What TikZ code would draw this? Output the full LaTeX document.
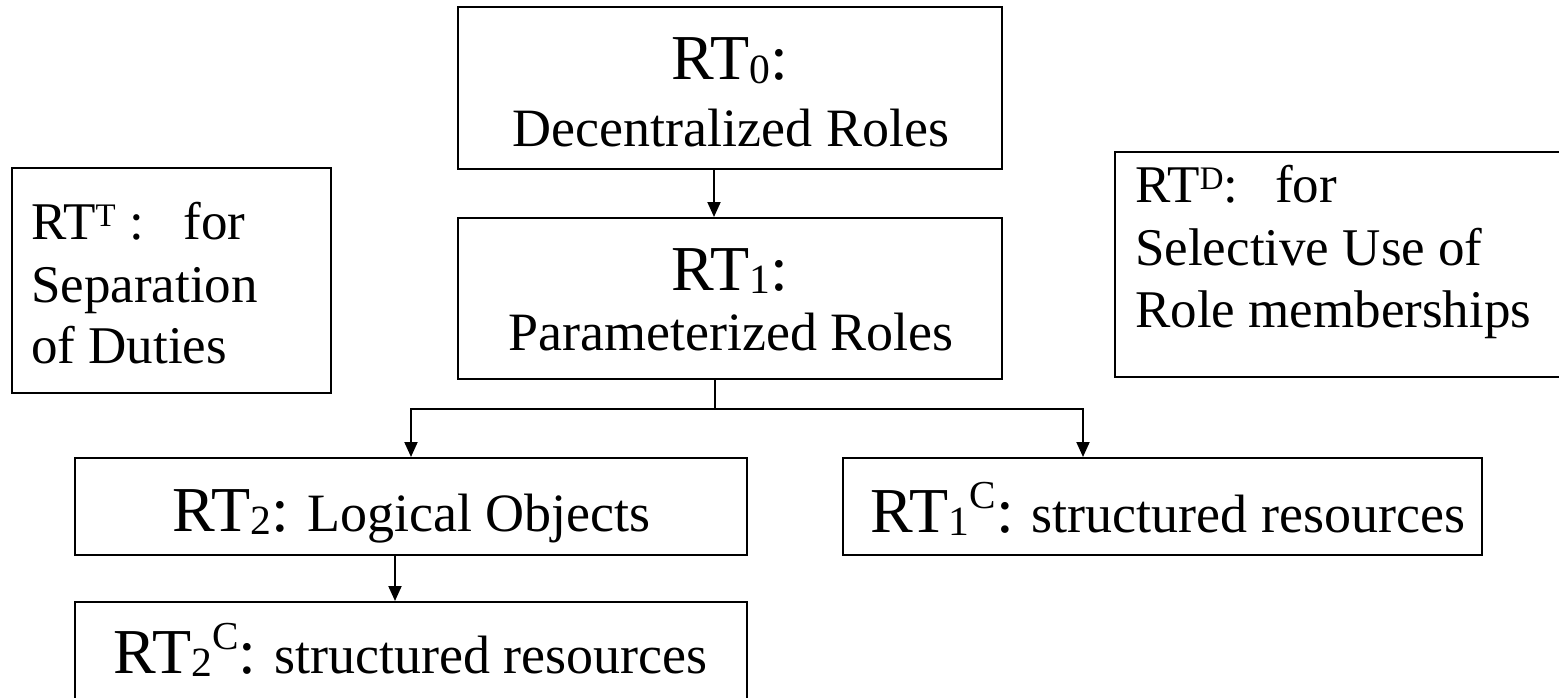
\documentclass[tikz,border=0pt]{standalone}
\usepackage{fontspec}
\setmainfont{Liberation Serif}
\usepackage{graphicx}
\usetikzlibrary{arrows.meta}
\newcommand\sbs[1]{\raisebox{-0.05em}{\scalebox{0.65}{#1}}}
\newcommand\sps[1]{\raisebox{0.36em}{\scalebox{0.62}{#1}}}
\newcommand\spt[1]{\raisebox{0.25em}{\scalebox{0.62}{#1}}}
\newcommand\szA{\fontsize{64}{64}\selectfont}
\newcommand\szB{\fontsize{54}{54}\selectfont}
\newcommand\szC{\fontsize{53}{53}\selectfont}
\begin{document}
\begin{tikzpicture}[x=1pt,y=-1pt,
  box/.style={draw,line width=2pt,rectangle,inner sep=0pt},
  lbl/.style={inner sep=0pt,anchor=base},
  lblw/.style={inner sep=0pt,anchor=base west},
  conn/.style={line width=2pt},
  arr/.style={line width=2pt,-{Triangle[length=15pt,width=13pt]}}]
\path[use as bounding box, clip] (0,0) rectangle (1559,698);
\fill[white] (0,0) rectangle (1559,698);

% boxes
\node[box, minimum width=544pt, minimum height=162pt] (b0) at (730,88) {};
\node[box, minimum width=544pt, minimum height=161pt] (b1) at (730,298.5) {};
\node[box, minimum width=319pt, minimum height=225pt] (bT) at (171.5,280.5) {};
\node[box, minimum width=465pt, minimum height=225pt] (bD) at (1347.5,264.5) {};
\node[box, minimum width=672pt, minimum height=97pt] (b2) at (411,506.5) {};
\node[box, minimum width=639pt, minimum height=97pt] (b1c) at (1162.5,506.5) {};
\node[box, minimum width=672pt, minimum height=100pt] (b2c) at (411,652) {};

% texts
\node[lbl] (t0a) at (730,80) {\szA RT\sbs{0}:};
\node[lbl] (t0b) at (731,147) {\szB Decentralized Roles};
\node[lbl] (t1a) at (730,290) {\szA RT\sbs{1}:};
\node[lbl] (t1b) at (731,350) {\szB Parameterized Roles};

\node[lblw] (tTa) at (31,240) {\szC RT\spt{T} :\hspace{0.75em}for};
\node[lblw] (tTb) at (31,302) {\szC Separation};
\node[lblw] (tTc) at (31,363) {\szC of Duties};

\node[lblw] (tDa) at (1135,203) {\szC RT\spt{D}:\hspace{0.7em}for};
\node[lblw] (tDb) at (1135,265) {\szC Selective Use of};
\node[lblw] (tDc) at (1135,327) {\szC Role memberships};

\node[lbl] (t2) at (411.5,531) {\szA RT\sbs{2}:\szB{} Logical Objects};
\node[lbl] (t1c) at (1168,532) {\szA RT\sbs{1}\sps{C}:\szB{} structured resources};
\node[lbl] (t2c) at (410.5,673) {\szA RT\sbs{2}\sps{C}:\szB{} structured resources};

% connectors
\coordinate (c0) at (714,0);
\coordinate (jn) at (715,409);
\coordinate (jl) at (411,409);
\coordinate (jr) at (1083,409);
\coordinate (c2) at (395,0);
\draw[arr] (b0.south -| c0) -- (b1.north -| c0);
\draw[conn] (b1.south -| jn) -- (jn);
\draw[arr] (jn) -- (jl) -- (b2.north -| jl);
\draw[arr] (jn) -- (jr) -- (b1c.north -| jr);
\draw[arr] (b2.south -| c2) -- (b2c.north -| c2);
\end{tikzpicture}
\end{document}
